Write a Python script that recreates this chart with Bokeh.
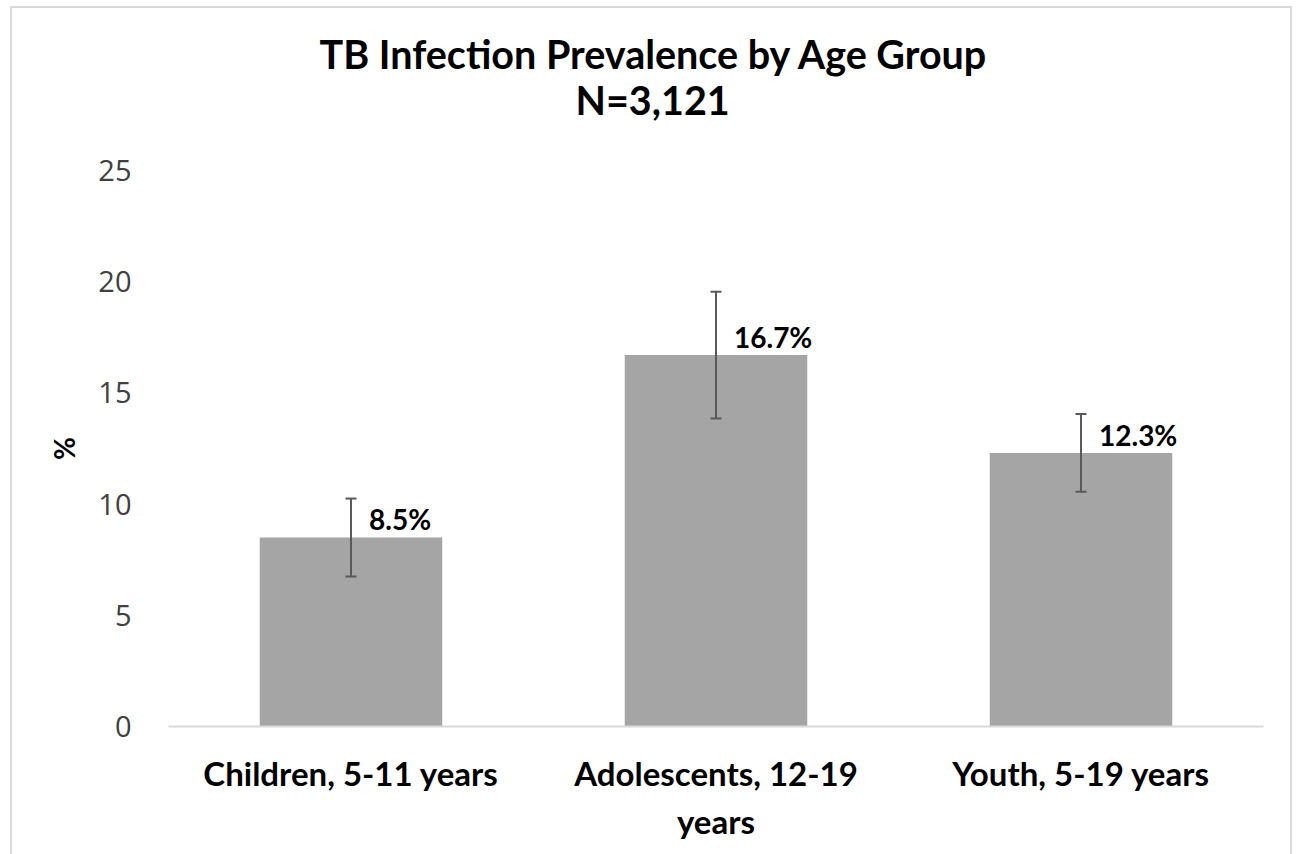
from bokeh.plotting import figure
from bokeh.models import ColumnDataSource, Whisker, Title, TeeHead, FixedTicker, Range1d, FactorRange
from bokeh.embed import file_html
from bokeh.resources import INLINE
from bokeh.core.properties import value

categories = ["Children, 5-11 years", "Adolescents, 12-19\nyears", "Youth, 5-19 years"]
prevalence = [8.5, 16.7, 12.3]
ci_lower = [6.75, 13.85, 10.55]
ci_upper = [10.25, 19.55, 14.05]
value_labels = ["8.5%", "16.7%", "12.3%"]
y_ticks = [0, 5, 10, 15, 20, 25]
title_line1 = "TB Infection Prevalence by Age Group"
title_line2 = "N=3,121"

src = ColumnDataSource(dict(cat=categories, val=prevalence, lo=ci_lower, hi=ci_upper, lab=value_labels))

p = figure(x_range=FactorRange(*categories), y_range=Range1d(0, 25),
           width=1296, height=854, output_backend="svg", toolbar_location=None,
           min_border_left=168, min_border_right=33, min_border_top=170, min_border_bottom=128)
p.outline_line_color = None
p.xgrid.grid_line_color = None
p.ygrid.grid_line_color = None
p.background_fill_color = "white"
p.border_fill_color = None
g = "linear-gradient(#d9d9d9,#d9d9d9)"
p.styles = {"background": f"{g} 10px 6px / 2px 100% no-repeat, {g} 1290px 6px / 2px 100% no-repeat, "
                          f"{g} 10px 6px / 1282px 2px no-repeat, white"}

p.vbar(x="cat", top="val", width=0.5, source=src, fill_color="#a5a5a5", line_color=None)

head_kw = dict(size=11, line_color="#595959", line_width=2)
p.add_layout(Whisker(base="cat", upper="hi", lower="lo", source=src, level="annotation",
                     line_color="#595959", line_width=2,
                     upper_head=TeeHead(**head_kw), lower_head=TeeHead(**head_kw)))

p.text(x="cat", y="val", text="lab", source=src, x_offset=18, y_offset=-18,
       text_align="left", text_baseline="middle", text_font=value("Lato"),
       text_font_style="bold", text_font_size="28px", text_color="black")

# axes
p.yaxis.ticker = FixedTicker(ticks=y_ticks)
p.yaxis.axis_line_color = None
p.yaxis.major_tick_line_color = None
p.yaxis.minor_tick_line_color = None
p.yaxis.major_label_standoff = 31
p.yaxis.major_label_text_font = "Open Sans"
p.yaxis.major_label_text_font_size = "29px"
p.yaxis.major_label_text_color = "#404040"
p.yaxis.axis_label = "%"
p.yaxis.axis_label_text_font = "Lato"
p.yaxis.axis_label_text_font_style = "bold"
p.yaxis.axis_label_text_font_size = "28px"
p.yaxis.axis_label_text_color = "black"
p.yaxis.axis_label_standoff = 14

p.xaxis.axis_line_color = "#d9d9d9"
p.xaxis.axis_line_width = 2
p.xaxis.major_tick_line_color = None
p.xaxis.major_tick_out = 0
p.xaxis.major_label_standoff = 26
p.xaxis.major_label_text_font = "Lato"
p.xaxis.major_label_text_font_style = "bold"
p.xaxis.major_label_text_font_size = "33px"
p.xaxis.major_label_text_color = "black"

# titles: first added sits closest to the plot area
for txt, so, off in [(title_line2, 96, 407), (title_line1, -103, 151)]:
    p.add_layout(Title(text=txt, align="left", offset=off, standoff=so,
                       text_font="Lato", text_font_style="bold",
                       text_font_size="39.5px", text_color="black"), "above")

open("out.html", "w").write(file_html(p, INLINE))
